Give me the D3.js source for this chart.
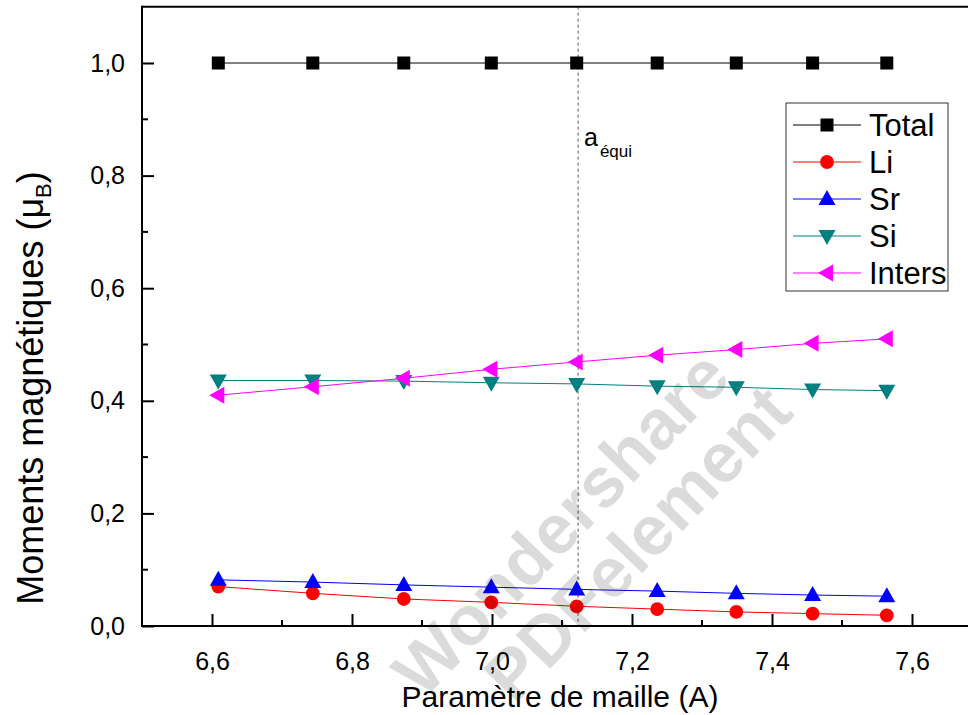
<!DOCTYPE html>
<html><head><meta charset="utf-8">
<script src="https://cdn.jsdelivr.net/npm/d3@7"></script>
<style>body{margin:0;background:#fff}svg{display:block;font-family:"Liberation Sans",Arial,sans-serif}</style>
</head><body><svg id="c" width="968" height="715"></svg>
<script>
const xValues = [6.609, 6.744, 6.874, 6.999, 7.121, 7.236, 7.349, 7.458, 7.564];
const total  = [1.0, 1.0, 1.0, 1.0, 1.0, 1.0, 1.0, 1.0, 1.0];
const li     = [0.070, 0.058, 0.048, 0.042, 0.035, 0.030, 0.025, 0.022, 0.019];
const sr     = [0.082, 0.078, 0.073, 0.069, 0.065, 0.062, 0.058, 0.055, 0.053];
const si     = [0.436, 0.436, 0.435, 0.432, 0.430, 0.426, 0.424, 0.420, 0.418];
const inters = [0.410, 0.425, 0.440, 0.456, 0.469, 0.481, 0.491, 0.502, 0.510];
const seriesNames = ["Total", "Li", "Sr", "Si", "Inters"];
const xTicks = [6.6, 6.8, 7.0, 7.2, 7.4, 7.6];
const yTicks = [0.0, 0.2, 0.4, 0.6, 0.8, 1.0];
const aEqui = 7.123;

const series = [
  {name: seriesNames[0], values: total,  color: "#000000", shape: "square"},
  {name: seriesNames[1], values: li,     color: "#ff0000", shape: "circle"},
  {name: seriesNames[2], values: sr,     color: "#0000ff", shape: "up"},
  {name: seriesNames[3], values: si,     color: "#008080", shape: "down"},
  {name: seriesNames[4], values: inters, color: "#ff00ff", shape: "left"}
];

const svg = d3.select("#c");
const x = d3.scaleLinear().domain([6.5, 7.7]).range([142, 982]);
const y = d3.scaleLinear().domain([0, 1.1]).range([626, 6.7]);
const fmt = d => d3.format(".1f")(d).replace(".", ",");

function markerPath(shape) {
  const s = 13;
  switch (shape) {
    case "square": return `M${-s/2},${-s/2}h${s}v${s}h${-s}Z`;
    case "circle": return d3.symbol(d3.symbolCircle, 150)();
    case "up":   return "M0,-9L8.5,6L-8.5,6Z";
    case "down": return "M0,9L8.5,-6L-8.5,-6Z";
    case "left": return "M-9,0L6,-8.5L6,8.5Z";
  }
}

// dashed a_equi line
svg.append("line").attr("x1", x(aEqui)).attr("x2", x(aEqui))
  .attr("y1", y(1.1)).attr("y2", y(0))
  .attr("stroke", "#555").attr("stroke-width", 1).attr("stroke-dasharray", "3,3");

// series
const line = d3.line().x((d, i) => x(xValues[i])).y(d => y(d));
series.forEach(s => {
  svg.append("path").datum(s.values).attr("d", line)
    .attr("fill", "none").attr("stroke", s.color).attr("stroke-width", 1);
  svg.selectAll(null).data(s.values).enter().append("path")
    .attr("d", markerPath(s.shape))
    .attr("transform", (d, i) => `translate(${x(xValues[i])},${y(d)})`)
    .attr("fill", s.color);
});

// axes frame
const ax = svg.append("g").attr("stroke", "#000").attr("stroke-width", 2);
ax.append("line").attr("x1", x(6.5)).attr("x2", 968).attr("y1", y(0)).attr("y2", y(0));
ax.append("line").attr("x1", x(6.5)).attr("x2", 968).attr("y1", y(1.1)).attr("y2", y(1.1));
ax.append("line").attr("x1", x(6.5)).attr("x2", x(6.5)).attr("y1", y(0)+1).attr("y2", y(1.1)-1);

// x axis ticks (inside)
const xAxis = d3.axisBottom(x).tickValues(xTicks).tickSize(-12).tickPadding(26).tickFormat(fmt);
const gx = svg.append("g").attr("transform", `translate(0,${y(0)})`).call(xAxis);
gx.select(".domain").remove();
gx.selectAll(".tick line").attr("stroke-width", 2);
gx.selectAll(".tick text").attr("font-size", 25).attr("fill", "#000").attr("font-family", "Liberation Sans, Arial, sans-serif");
const xMinor = d3.range(6.7, 7.7, 0.2);
svg.selectAll(null).data(xMinor).enter().append("line")
  .attr("x1", d => x(d)).attr("x2", d => x(d)).attr("y1", y(0)).attr("y2", y(0) - 6)
  .attr("stroke", "#000").attr("stroke-width", 2);

// y axis ticks (inside)
const yAxis = d3.axisLeft(y).tickValues(yTicks).tickSize(-12).tickPadding(17).tickFormat(fmt);
const gy = svg.append("g").attr("transform", `translate(${x(6.5)},0)`).call(yAxis);
gy.select(".domain").remove();
gy.selectAll(".tick line").attr("stroke-width", 2);
gy.selectAll(".tick text").attr("font-size", 25).attr("fill", "#000").attr("font-family", "Liberation Sans, Arial, sans-serif");
const yMinor = [0.1, 0.3, 0.5, 0.7, 0.9];
svg.selectAll(null).data(yMinor).enter().append("line")
  .attr("x1", x(6.5)).attr("x2", x(6.5) + 6).attr("y1", d => y(d)).attr("y2", d => y(d))
  .attr("stroke", "#000").attr("stroke-width", 2);

// axis titles
svg.append("text").attr("x", 560).attr("y", 707).attr("text-anchor", "middle")
  .attr("font-size", 30).text("Paramètre de maille (A)");
const yt = svg.append("text").attr("transform", "translate(43,388) rotate(-90)")
  .attr("text-anchor", "middle").attr("font-size", 36);
yt.append("tspan").text("Moments magnétiques (μ");
yt.append("tspan").attr("font-size", 22).attr("dy", 8).text("B");
yt.append("tspan").attr("dy", -8).text(")");

// a_equi annotation
const an = svg.append("text").attr("x", 584).attr("y", 146).attr("font-size", 25);
an.append("tspan").text("a");
an.append("tspan").attr("font-size", 17).attr("dy", 11).attr("dx", 2).text("équi");

// legend
const lg = svg.append("g");
lg.append("rect").attr("x", 786).attr("y", 103).attr("width", 162).attr("height", 188)
  .attr("fill", "#fff").attr("stroke", "#333").attr("stroke-width", 1);
series.forEach((s, i) => {
  const cy = 125 + i * 37;
  lg.append("line").attr("x1", 793).attr("x2", 861).attr("y1", cy).attr("y2", cy)
    .attr("stroke", s.color).attr("stroke-width", 1);
  lg.append("path").attr("d", markerPath(s.shape)).attr("transform", `translate(827,${cy})`).attr("fill", s.color);
  lg.append("text").attr("x", 869).attr("y", cy + 11).attr("font-size", 31).text(s.name);
});

// watermark
const wm = svg.append("g").attr("fill", "#000").attr("fill-opacity", 0.14)
  .attr("font-weight", "bold").attr("font-size", 70).attr("text-anchor", "middle");
wm.append("text").attr("transform", "translate(578,540) rotate(-46)").text("Wondershare");
wm.append("text").attr("transform", "translate(655,560) rotate(-46)").text("PDFelement");
</script></body></html>
